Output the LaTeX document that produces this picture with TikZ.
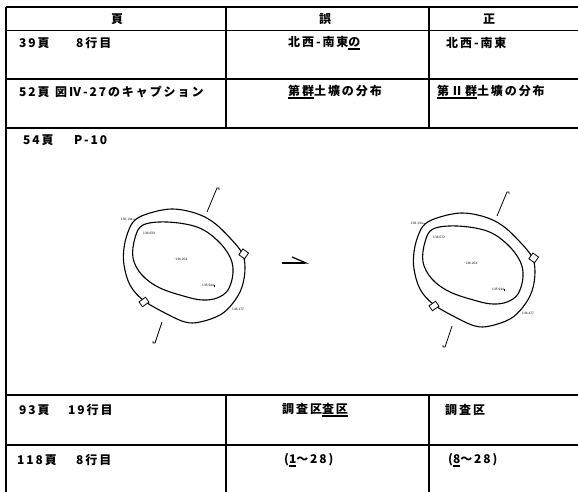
\documentclass[tikz,border=0pt]{standalone}
\usepackage{fontspec}
\usetikzlibrary{arrows.meta}
\newfontfamily\jp{Noto Sans CJK JP}[LetterSpace=16]
\newcommand\ulmark[1]{\setbox0\hbox{#1}\rlap{\rule[-3.2pt]{\wd0}{1.6pt}}\box0}

\tikzset{cell/.style = {anchor=west, inner sep=0pt, font=\jp\bfseries\fontsize{12}{12}\selectfont},
         head/.style = {cell, anchor=center},
         rule/.style = {line width=1.1pt},
         ring/.style = {line width=1.1pt},
         tag/.style  = {inner sep=0pt, font=\sffamily\fontsize{3.4}{3.4}\selectfont},
         pics/pit/.style n args = {2}{code = {
           \draw[ring] plot[smooth cycle, tension=0.6] coordinates {(-51,-45) (-36,-52) (-14,-56) (9,-52) (27,-43)
               (44,-27) (56,-12) (59,3) (56,22) (47,38) (34,50) (14,57) (-1,57) (-21,48) (-43,35) (-56,20)
               (-62,0) (-62,-17) (-58,-33)};
           \draw[ring] plot[smooth cycle, tension=0.6] coordinates {(-43,-40) (-19,-43) (11,-38) (31,-25)
               (44,-8) (47,8) (42,25) (31,33) (17,35) (1,32) (-26,23) (-44,10) (-53,-7) (-51,-27)};
           % notches
           \draw[line width=0.8pt, fill=white, rotate around={-35:(57,-11)}] (54,-15) rectangle (61,-8);
           \draw[line width=0.8pt, fill=white, rotate around={35:(-42,37)}] (-46,34) rectangle (-38,40);
           % north lines
           \coordinate (-nA) at (21,-53); \coordinate (-nB) at (31,-77);
           \coordinate (-sA) at (-24,57); \coordinate (-sB) at (-31,78);
           \draw[line width=0.8pt] (-nA) -- (-nB) -- ++(2,0) -- ++(0,2);
           \draw[line width=0.8pt] (-sA) -- (-sB) -- ++(-2,0) -- ++(0,-2);
           % levels
           \node[tag, anchor=east] (-l1) at (-53,-46) {136.134};
           \draw[line width=0.3pt] (-l1.east) -- ++(2,0.5);
           \node[tag, anchor=west] (-l2) at (-43,-32) {#1};
           \node[tag, anchor=west] (-l3) at (-13,-6) {$\cdot$136.204};
           \node[tag, anchor=west] (-l4) at (16,20) {135.944};
           \draw[line width=0.3pt] (-l4.east) -- ++(0,2);
           \node[tag, anchor=west] (-l5) at (46,44) {#2};
         }}
        }

\begin{document}
\begin{tikzpicture}[x=1pt, y=-1pt]
  \useasboundingbox (0,0) rectangle (578,492);
  % table
  \foreach \y in {7,30.5,79,128,395,445}
    \draw[rule] (6,\y) -- (578,\y);
  \draw[rule] (6,7) -- (6,492);
  \foreach \x in {226,429} {
    \draw[rule] (\x,7) -- (\x,128);
    \draw[rule] (\x,395) -- (\x,492);
  }
  % header
  \node[head] (hPage) at (117,19) {頁};
  \node[head] (hWrong) at (325,19) {誤};
  \node[head] (hRight) at (489,19) {正};
  % rows
  \node[cell] (p39) at (19,43) {39頁};
  \node[cell] (l39) at (76,43) {8行目};
  \node[cell] (w39) at (288,43) {北西-南東\ulmark{の}};
  \node[cell] (r39) at (446,43) {北西-南東};

  \node[cell] (p52) at (19,92) {52頁};
  \node[cell] (l52) at (55,92) {図Ⅳ-27のキャプション};
  \node[cell] (w52) at (288,92) {\ulmark{第群}土壙の分布};
  \node[cell] (r52) at (437,92) {\ulmark{第Ⅱ群}土壙の分布};

  \node[cell] (p54) at (23,140) {54頁};
  \node[cell] (l54) at (74,140) {P-10};

  \node[cell] (p93) at (19,410) {93頁};
  \node[cell] (l93) at (68,410) {19行目};
  \node[cell] (w93) at (282,410) {調査区\ulmark{査区}};
  \node[cell] (r93) at (445,410) {調査区};

  \node[cell] (p118) at (17,460) {118頁};
  \node[cell] (l118) at (76,460) {8行目};
  \node[cell] (w118) at (284,460) {(\ulmark{1}～28)};
  \node[cell] (r118) at (448,460) {(\ulmark{8}～28)};
  % figure
  \pic (before) at (186,265) {pit={136.023}{136.177}};
  \pic (after) at (476,269) {pit={136.072}{136.477}};
  \coordinate (arrL) at (282,263);
  \coordinate (arrR) at (309,263);
  \draw[line width=1.2pt, -{Straight Barb[harpoon, length=14pt, width=12pt]}] (arrL) -- (arrR);
\end{tikzpicture}
\end{document}
